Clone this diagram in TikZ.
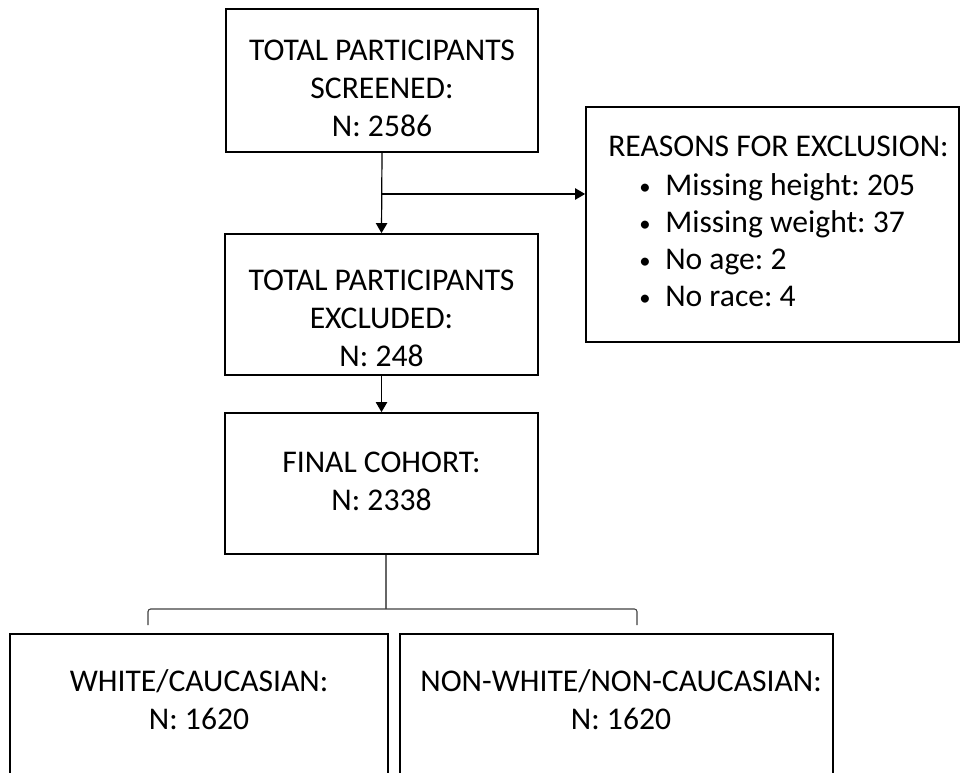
\documentclass[tikz,border=0pt]{standalone}
\usepackage{fontspec}
\setmainfont{Carlito}
\usetikzlibrary{arrows.meta,calc}
\frenchspacing
\begin{document}
\begin{tikzpicture}[x=0.75pt,y=-0.75pt,
  box/.style={draw=black,line width=1.3pt,inner sep=0pt,fill=none},
  txt/.style={font=\fontsize{23.7}{28.5}\selectfont,align=center,inner sep=0pt},
  ltxt/.style={font=\fontsize{23.7}{28.5}\selectfont,inner sep=0pt,anchor=base west},
  arr/.style={draw=black,line width=0.9pt,-{Triangle[length=7.5pt,width=8.5pt]}},
  brk/.style={draw=black!75,line width=0.8pt,rounded corners=2pt}]
\useasboundingbox (0,0) rectangle (961,773);
\clip (0,0) rectangle (961,773);
% boxes
\node[box,minimum width=312*0.75pt,minimum height=143*0.75pt] (top) at (382,80.5) {};
\node[box,minimum width=373*0.75pt,minimum height=235*0.75pt] (reasons) at (772.5,224.5) {};
\node[box,minimum width=313*0.75pt,minimum height=141*0.75pt] (mid) at (381.5,304.5) {};
\node[box,minimum width=313*0.75pt,minimum height=141*0.75pt] (final) at (381.5,483.5) {};
\node[box,minimum width=378*0.75pt,minimum height=166*0.75pt] (white) at (199,717) {};
\node[box,minimum width=433*0.75pt,minimum height=166*0.75pt] (nonwhite) at (616.5,717) {};
% texts
\node[txt] (topt) at (382,88) {TOTAL PARTICIPANTS\\SCREENED:\\N: 2586};
\node[txt] (midt) at (381.5,318) {TOTAL PARTICIPANTS\\EXCLUDED:\\N: 248};
\node[txt] (finalt) at (381.5,481) {FINAL COHORT:\\N: 2338};
\node[txt] (whitet) at (199,700) {WHITE/CAUCASIAN:\\N: 1620};
\node[txt] (nonwhitet) at (621,700) {NON-WHITE/NON-CAUCASIAN:\\N: 1620};
\newcommand\bul{\makebox[19.5pt][l]{\raisebox{1pt}{\fontsize{17}{17}\selectfont\textbullet}}}
\node[ltxt] (r0) at (608,157) {REASONS FOR EXCLUSION:};
\node[ltxt] (r1) at (639,196) {\bul Missing height: 205};
\node[ltxt] (r2) at (639,233) {\bul Missing weight: 37};
\node[ltxt] (r3) at (639,270) {\bul No age: 2};
\node[ltxt] (r4) at (639,307) {\bul No race: 4};
% connectors
\coordinate (j) at (382,194);
\draw[arr] (top.south) -- (mid.north);
\draw[arr] (j) -- (j -| reasons.west);
\draw[arr] (mid.south) -- (final.north);
\coordinate (bj) at (386,609);
\coordinate (bl) at (148,609);
\coordinate (br) at (637,609);
\draw[draw=black!60,line width=0.8pt] (final.south -| bj) -- (bj);
\draw[brk] ($(bl)+(0,16)$) -- (bl) -- (br) -- ($(br)+(0,16)$);
\end{tikzpicture}
\end{document}
